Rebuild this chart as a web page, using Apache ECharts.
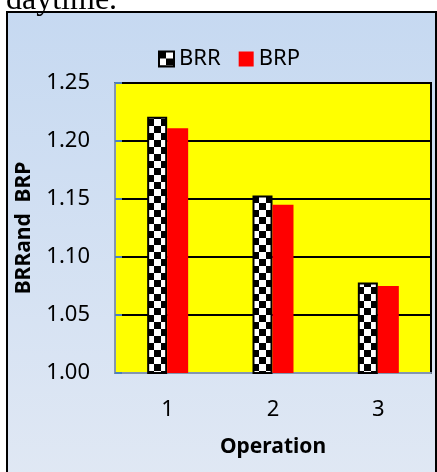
<!DOCTYPE html>
<html>
<head>
<meta charset="utf-8">
<script src="https://cdn.jsdelivr.net/npm/echarts@6/dist/echarts.min.js"></script>
<style>
html,body{margin:0;padding:0;background:#fff;}
#c{width:437px;height:472px;}
</style>
</head>
<body>
<div id="c"></div>
<script>
const categories = ['1', '2', '3'];
const brrValues = [1.221, 1.153, 1.078];
const brpValues = [1.211, 1.145, 1.075];
const yTicks = { min: 1.00, max: 1.25, interval: 0.05 };

// checkerboard pattern
const pc = document.createElement('canvas');
pc.width = 14; pc.height = 14;
const g = pc.getContext('2d');
g.fillStyle = '#ffffff'; g.fillRect(0, 0, 14, 14);
g.fillStyle = '#000000';
g.fillRect(0, 0, 7, 7); g.fillRect(7, 7, 7, 7);

const font = 'Noto Sans';
const chart = echarts.init(document.getElementById('c'));
chart.setOption({
  backgroundColor: '#ffffff',
  animation: false,
  graphic: [
    {
      type: 'rect', z: -10,
      shape: { x: 7, y: 12, width: 429, height: 470 },
      style: {
        fill: new echarts.graphic.LinearGradient(0, 0, 0, 1, [
          { offset: 0, color: '#c6d9f1' },
          { offset: 1, color: '#e0e8f4' }
        ]),
        stroke: '#000000', lineWidth: 2
      }
    },
    {
      type: 'text', left: 6, top: -15, z: 10,
      style: { text: 'daytime.', font: '32px "Liberation Serif"', fill: '#000' }
    }
  ],
  legend: {
    left: 153, top: 43,
    itemWidth: 15, itemHeight: 15, itemGap: 18,
    textStyle: { fontFamily: font, fontSize: 22, color: '#000' },
    data: [
      { name: 'BRR', icon: 'rect' },
      { name: 'BRP', icon: 'rect' }
    ]
  },
  grid: {
    left: 115, top: 83, right: 6, bottom: 99,
    show: true, backgroundColor: '#ffff00', borderColor: '#000', borderWidth: 2
  },
  xAxis: {
    type: 'category', data: categories,
    name: 'Operation', nameLocation: 'middle', nameGap: 64,
    nameTextStyle: { fontFamily: font, fontSize: 21, fontWeight: 'bold', color: '#000' },
    axisLine: { lineStyle: { color: '#8496b0', width: 2 } },
    axisTick: { show: false },
    axisLabel: { fontFamily: font, fontSize: 22, color: '#000', margin: 26 }
  },
  yAxis: {
    type: 'value', min: yTicks.min, max: yTicks.max, interval: yTicks.interval,
    name: 'BRRand  BRP', nameLocation: 'middle', nameGap: 80,
    nameTextStyle: { fontFamily: font, fontSize: 21, fontWeight: 'bold', color: '#000' },
    axisLine: { show: true, lineStyle: { color: '#8496b0', width: 2 } },
    axisTick: { show: true, inside: true, length: 7, lineStyle: { color: '#4f81bd', width: 2 } },
    splitLine: { lineStyle: { color: '#000', width: 2 } },
    axisLabel: { fontFamily: font, fontSize: 22, color: '#000', margin: 25,
      formatter: v => v.toFixed(2) }
  },
  series: [
    {
      name: 'BRR', type: 'bar', data: brrValues, barWidth: 20, barGap: '0%',
      itemStyle: { color: { image: pc, repeat: 'repeat' }, borderColor: '#000', borderWidth: 2 }
    },
    {
      name: 'BRP', type: 'bar', data: brpValues, barWidth: 21, barGap: '0%',
      itemStyle: { color: '#ff0000' }
    }
  ]
});
</script>
</body>
</html>
